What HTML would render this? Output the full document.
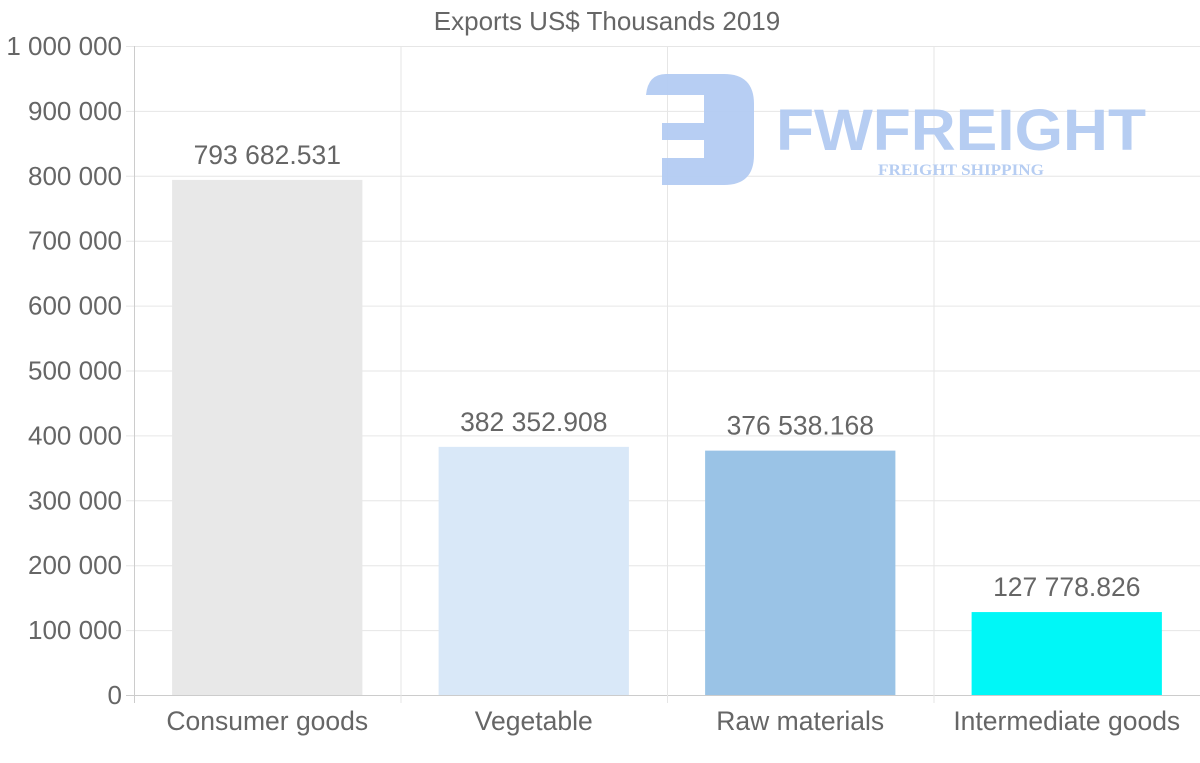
<!DOCTYPE html>
<html><head><meta charset="utf-8"><style>
html,body{margin:0;padding:0;background:#fff;}
svg{display:block;font-family:"Liberation Sans",sans-serif;}
</style></head><body>
<svg id="chart" width="1200" height="763">
<text x="607" y="30" text-anchor="middle" font-size="26" fill="#666">Exports US$ Thousands 2019</text>
<g id="grid"></g>
<g opacity="0.95">
<path d="M666 74 H724 Q754 74 754 104 V155 Q754 185 724 185 H662 V158 H704 V140 H662 V123 H704 V95 H646 Q648 74 666 74 Z" fill="#b3cbf2"/>
<text x="776" y="150" font-size="58" font-weight="bold" fill="#b3cbf2" textLength="370" lengthAdjust="spacingAndGlyphs">FWFREIGHT</text>
<text x="878" y="175" font-size="16" font-weight="bold" font-family="Liberation Serif,serif" fill="#b3cbf2" textLength="166" lengthAdjust="spacingAndGlyphs">FREIGHT SHIPPING</text>
</g>
<g id="bars"></g>
<g id="axes"></g>
</svg>
<script>
const categories=["Consumer goods","Vegetable","Raw materials","Intermediate goods"];
const values=[793682.531,382352.908,376538.168,127778.826];
const valueLabels=["793 682.531","382 352.908","376 538.168","127 778.826"];
const yTicks=[0,100000,200000,300000,400000,500000,600000,700000,800000,900000,1000000];
const yTickLabels=["0","100 000","200 000","300 000","400 000","500 000","600 000","700 000","800 000","900 000","1 000 000"];
const colors=["#e8e8e8","#d9e8f8","#9ac3e6","#00f7f7"];
const NS="http://www.w3.org/2000/svg";
const L=134,R=1200,T=46,B=695,yMax=1000000;
const y=v=>B-(v/yMax)*(B-T);
const bw=(R-L)/categories.length;
const x=i=>L+bw*i;
function mk(tag,attrs,parent,text){const e=document.createElementNS(NS,tag);for(const k in attrs)e.setAttribute(k,attrs[k]);if(text!==undefined)e.textContent=text;parent.appendChild(e);return e;}
const grid=document.getElementById('grid'),bars=document.getElementById('bars'),axes=document.getElementById('axes');
yTicks.forEach((t,i)=>{
 const l=mk('line',{x1:L-8,x2:R,y1:y(t)+0.5,y2:y(t)+0.5,stroke:i===0?'#ccc':'#e6e6e6'},grid);
 
 
 const tx=mk('text',{x:L-12,y:y(t)+9,'text-anchor':'end','font-size':26,fill:'#666'},axes,yTickLabels[i]);
 
 
});
for(let i=0;i<=categories.length;i++){
 const l=mk('line',{x1:x(i)+0.5,x2:x(i)+0.5,y1:T,y2:B+8,stroke:i===0?'#ccc':'#e6e6e6'},grid);
 
 
}
categories.forEach((c,i)=>{
 const bx=x(i)+bw*0.143,w=bw*0.714;
 const r=mk('rect',{x:bx,y:y(values[i]),width:w,height:B-y(values[i]),fill:colors[i]},bars);
 
 
 const v=mk('text',{x:x(i)+bw/2,y:y(values[i])-16,'text-anchor':'middle','font-size':26.5,fill:'#666'},bars,valueLabels[i]);
 
 
 const cl=mk('text',{x:x(i)+bw/2,y:730,'text-anchor':'middle','font-size':26.5,fill:'#666'},axes,c);
 
 
});
</script>
</body></html>
